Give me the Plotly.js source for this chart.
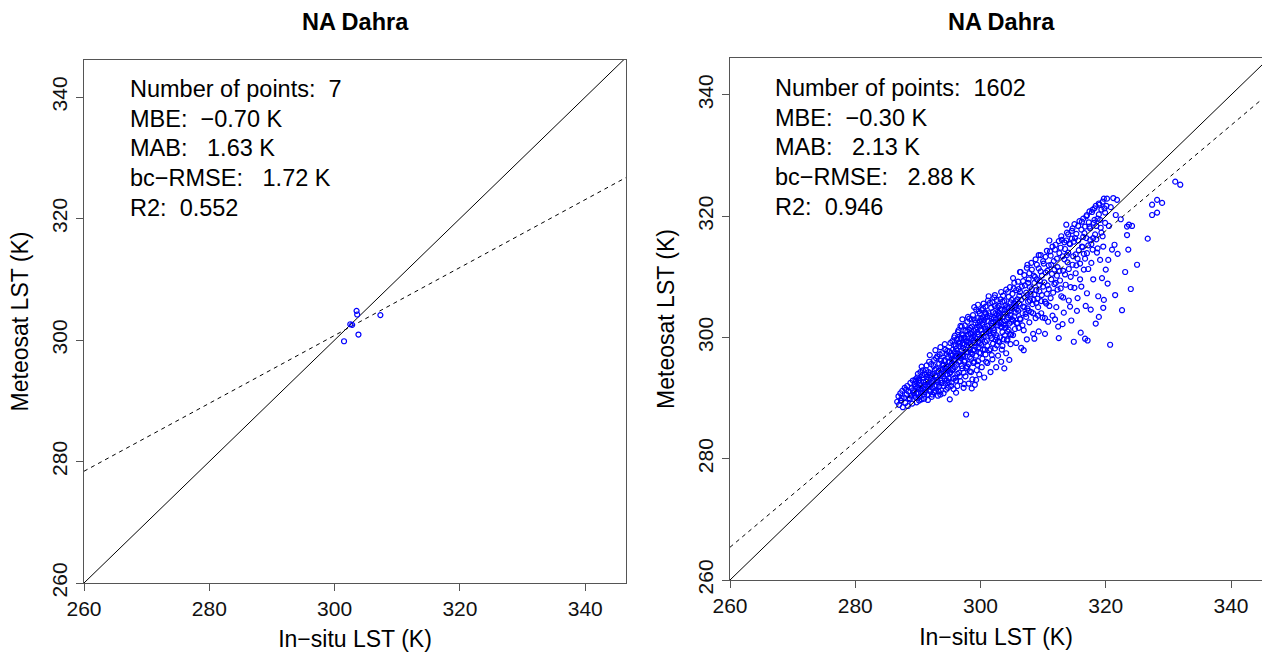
<!DOCTYPE html>
<html><head><meta charset="utf-8">
<script src="https://cdn.plot.ly/plotly-3.0.1.min.js"></script>
<style>html,body{margin:0;padding:0;background:#fff;}#chart{width:1262px;height:652px;}</style>
</head><body><div id="chart"></div>
<script>
const panelTitles = ['NA Dahra', 'NA Dahra'];
const xAxisTitle = 'In\u2212situ LST (K)';
const yAxisTitle = 'Meteosat LST (K)';
const tickValues = [260, 280, 300, 320, 340];
const tickLabels = ['260', '280', '300', '320', '340'];

// Left panel: 7 matchups
const insituLeft   = [303.5, 303.6, 302.5, 307.3, 303.8, 301.5, 302.8];
const meteosatLeft = [304.8, 304.2, 302.6, 304.1, 300.9, 299.8, 302.5];

const statsLeft  = ['Number of points:  7', 'MBE:  \u22120.70 K', 'MAB:   1.63 K', 'bc\u2212RMSE:   1.72 K', 'R2:  0.552'];
const statsRight = ['Number of points:  1602', 'MBE:  \u22120.30 K', 'MAB:   2.13 K', 'bc\u2212RMSE:   2.88 K', 'R2:  0.946'];

// regression fits (dashed): y = intercept + slope * x
const fitSlopes = [0.559, 0.87];
const fitIntercepts = [133.06, 39.2];

// Right panel: (in-situ, Meteosat) pairs read from the point cloud
const pairsRight = [
[286.7,289.4],[286.9,290.3],[287.0,288.9],[287.2,290.8],[287.3,289.6],[287.5,291.2],[287.6,288.5],[287.8,290.1],[287.9,291.7],[288.0,289.2],
[288.2,290.6],[288.3,292.0],[288.4,288.7],[288.5,291.1],[288.7,289.8],[288.8,292.5],[288.9,290.4],[289.0,291.6],[289.1,289.1],[289.2,292.9],
[289.3,290.8],[287.4,290.0],[288.1,291.4],[288.6,290.0],[289.2,291.3],
[289.4,291.2],[289.6,293.1],[289.7,290.1],[289.9,291.8],[290.0,294.0],[290.2,289.6],[290.3,292.5],[290.5,290.9],[290.6,295.2],[290.8,291.6],
[290.9,293.4],[291.0,289.9],[291.2,292.2],[291.3,294.6],[291.5,290.6],[291.6,293.0],[291.8,296.0],[291.9,291.4],[292.0,294.1],[292.2,290.2],
[292.3,292.8],[292.5,295.3],[292.6,291.0],[292.8,293.7],[292.9,296.6],[293.0,292.1],[293.2,290.4],[293.3,294.5],[293.5,297.2],[293.6,292.9],
[293.7,291.3],[293.9,295.4],[294.0,293.6],[294.1,290.8],[294.3,296.3],[294.4,292.4],[294.5,294.9],[294.7,297.8],[294.8,291.7],[294.9,293.3],
[295.0,295.9],[295.1,289.8],[289.8,290.7],[290.4,291.5],[290.7,293.8],[291.1,291.0],[291.4,293.5],[291.7,292.0],[292.1,293.3],[292.4,291.6],
[292.7,294.7],[293.1,293.0],[293.4,291.9],[293.8,294.0],[294.2,294.4],[294.6,292.9],[295.2,294.3],[289.5,292.3],[290.1,292.9],[291.9,297.1],
[292.8,297.9],[293.6,298.4],[294.3,298.9],
[289.5,290.4],[289.6,291.9],[289.7,292.8],[289.8,289.3],[289.9,293.4],[290.0,290.8],[290.1,291.7],[290.2,293.0],[290.3,290.2],[290.4,294.3],
[290.5,292.1],[290.6,289.8],[290.7,291.2],[290.8,294.6],[290.9,292.6],[291.0,290.6],[291.1,293.9],[291.2,291.4],[291.3,292.7],[291.4,295.4],
[291.5,291.9],[291.6,289.7],[291.7,294.3],[291.8,292.3],[291.9,293.8],[292.0,291.1],[292.1,295.6],[292.2,292.5],[292.3,290.6],[292.4,294.0],
[292.5,293.0],[292.6,296.3],[292.7,292.0],[292.8,291.2],[292.9,294.9],[293.0,293.5],[293.1,296.9],[293.2,292.6],[293.3,291.1],[293.4,295.7],
[293.5,293.8],[293.6,290.6],[293.7,296.2],[293.8,292.5],[293.9,297.4],[294.0,294.8],[294.1,292.0],[294.2,296.1],[294.3,293.2],[294.4,298.0],
[294.5,291.4],[294.6,295.2],[294.7,293.9],[294.8,296.8],[294.9,292.6],[295.0,297.7],[295.1,294.1],[295.2,299.1],[295.3,292.0],[295.4,296.5],
[295.5,294.6],[295.6,298.0],[295.7,293.2],[295.8,300.0],[295.9,295.1],[296.0,297.0],[296.1,292.9],[296.2,299.6],[296.3,294.0],[296.4,300.9],
[296.5,296.0],[296.6,298.6],[296.7,293.6],[296.8,297.2],[296.9,299.9],[297.0,295.3],[294.05,295.5],[294.55,297.3],[295.05,296.0],[295.55,297.1],
[296.05,298.6],[296.55,299.2],[293.75,294.7],[294.25,295.0],[294.75,294.6],[295.25,295.4],[295.75,296.4],[296.25,297.0],[296.75,296.1],[297.0,301.8],
[295.3,297.0],[295.4,292.6],[295.5,299.4],[295.6,294.8],[295.7,291.5],[295.8,296.2],[295.9,300.3],[296.0,293.4],[296.1,298.1],[296.2,295.5],
[296.3,292.0],[296.4,297.3],[296.5,301.2],[296.6,294.2],[296.7,299.0],[296.8,292.8],[296.9,296.6],[297.0,300.5],[297.1,294.9],[297.2,298.3],
[297.3,291.7],[297.4,296.0],[297.5,302.0],[297.6,293.6],[297.7,287.3],[297.8,299.5],[297.9,295.2],[298.0,297.6],[298.1,292.4],[298.2,301.3],
[298.3,294.4],[298.4,298.9],[298.5,296.5],[298.6,303.0],[298.7,293.1],[298.8,300.2],[298.9,295.8],[299.0,298.0],[299.1,292.2],[299.2,302.4],
[299.3,297.0],[299.4,294.6],[299.5,300.9],[299.6,296.1],[299.7,304.3],[299.8,293.9],[299.9,299.1],[300.0,297.4],
[295.4,295.7],[295.9,297.6],[296.3,299.8],[296.6,296.9],[297.0,297.8],[297.3,299.9],[297.6,298.1],[297.9,301.0],[298.2,299.2],[298.5,300.7],
[298.8,297.9],[299.1,300.0],[299.4,301.7],[299.7,298.4],[296.1,290.9],[297.4,292.3],[298.6,291.6],[299.3,293.0],[296.8,301.9],[298.0,303.4],
[299.0,305.0],[299.6,305.4],[295.7,298.8],[297.1,303.0],[298.3,296.8],[299.9,302.6],
[297.1,297.1],[297.2,300.4],[297.3,294.2],[297.4,298.8],[297.5,296.2],[297.6,301.1],[297.7,295.0],[297.8,297.6],[297.9,302.6],[298.0,299.2],
[298.1,295.6],[298.2,303.1],[298.3,298.0],[298.4,300.6],[298.5,294.3],[298.6,301.8],[298.7,297.3],[298.8,303.7],[298.9,299.6],[299.0,296.0],
[299.1,302.9],[299.2,298.5],[299.3,304.6],[299.4,299.8],[299.5,295.5],[299.6,302.1],[299.7,300.5],[299.8,297.5],[299.9,304.0],[300.0,301.2],
[300.1,298.8],[300.2,302.8],[300.3,296.5],[300.4,304.8],[300.5,300.1],[300.6,302.9],[300.7,298.0],[300.8,305.1],[300.9,300.9],[301.0,303.4],
[297.15,299.0],[297.45,300.0],[297.75,299.3],[298.05,300.5],[298.35,301.6],[298.65,299.9],[298.95,301.1],[299.25,301.3],[299.55,303.2],[299.85,301.8],
[300.15,300.0],[300.45,303.3],[300.75,304.1],[297.25,296.9],[297.85,298.7],[298.45,297.5],[299.05,299.1],[299.65,299.3],[300.25,299.6],[300.85,301.4],
[300.1,303.1],[300.2,295.1],[300.3,300.6],[300.4,298.0],[300.5,305.6],[300.6,293.4],[300.7,301.8],[300.8,297.2],[300.9,303.9],[301.0,299.5],
[301.1,295.8],[301.2,306.1],[301.3,301.0],[301.4,297.9],[301.5,305.7],[301.6,294.3],[301.7,302.4],[301.8,299.9],[301.9,296.4],[302.0,304.2],
[302.1,300.8],[302.2,306.6],[302.3,298.2],[302.4,302.9],[302.5,295.1],[302.6,300.0],[302.7,305.0],[302.8,297.0],[302.9,303.6],[303.0,299.3],
[303.2,301.8],[303.3,296.0],[303.4,304.5],[303.5,298.6],[303.6,306.9],[303.7,302.1],[303.8,294.9],[303.9,300.4],[304.0,305.3],[304.1,297.4],
[304.2,303.0],[304.3,299.7],[304.4,307.5],[304.5,301.3],[304.6,296.3],[304.7,304.4],[304.8,298.9],[304.9,302.6],[305.0,306.2],
[300.3,302.2],[300.7,299.3],[301.1,301.9],[301.6,300.3],[302.0,301.5],[302.4,299.6],[302.8,302.0],[303.1,303.3],[303.5,300.9],[303.9,302.7],
[304.3,304.1],[304.7,300.5],[300.9,296.0],[301.8,297.1],[302.6,298.7],[303.4,298.0],[304.2,299.5],[300.2,304.5],[301.3,304.0],[302.3,305.2],
[303.2,306.3],[304.0,301.6],[304.8,305.8],
[301.1,298.6],[301.2,302.7],[301.3,306.8],[301.4,300.7],[301.5,303.5],[301.6,298.1],[301.7,304.9],[301.8,301.9],[301.9,305.8],[302.0,299.0],
[302.1,303.2],[302.2,301.2],[302.3,307.0],[302.4,304.0],[302.5,300.4],[302.6,306.2],[302.7,302.5],[302.8,299.4],[302.9,305.2],[303.0,302.8],
[303.1,300.0],[303.2,304.7],[303.3,307.5],[303.4,301.7],[303.5,305.9],[303.6,303.4],[303.7,299.7],[303.8,306.0],[303.9,303.9],[304.0,302.1],
[304.1,307.9],[304.2,305.0],[304.3,301.0],[304.4,303.3],[304.5,306.7],[304.6,302.3],[304.7,308.3],[304.8,303.7],[304.9,300.5],[305.0,304.8],
[305.1,307.2],[305.2,302.8],[305.3,305.6],[305.4,309.0],[305.5,301.4],[305.6,304.1],[305.7,307.8],[305.8,302.3],[305.9,306.3],[306.0,304.4],
[301.45,301.3],[302.05,302.6],[302.65,303.8],[303.25,302.4],[303.85,304.6],[304.45,304.9],[305.05,303.0],[305.65,305.3],[301.75,303.1],[302.95,304.1],
[305.2,300.4],[305.3,308.1],[305.4,303.5],[305.6,306.0],[305.7,299.1],[305.8,304.7],[306.0,309.2],[306.1,301.6],[306.2,306.9],[306.4,303.0],
[306.5,298.3],[306.6,308.4],[306.8,305.1],[306.9,301.2],[307.0,310.3],[307.2,303.9],[307.3,307.4],[307.4,299.7],[307.6,305.9],[307.7,309.6],
[307.8,302.5],[308.0,307.1],[308.1,304.2],[308.2,311.2],[308.4,300.6],[308.5,306.2],[308.6,309.0],[308.8,303.2],[308.9,307.8],[309.0,312.0],
[309.2,305.0],[309.3,301.0],[309.4,308.7],[309.6,310.9],[309.7,304.0],[309.8,307.0],[310.0,312.6],
[305.5,305.0],[306.3,307.5],[307.1,306.6],[307.9,308.3],[308.7,310.0],[309.5,309.3],[305.9,302.4],[306.7,304.0],[307.5,304.8],[308.3,305.5],
[309.1,306.4],[309.9,303.3],[310.3,300.6],[306.9,297.9],[308.6,299.8],[305.2,309.8],[307.5,312.0],[309.3,313.6],[306.3,310.8],
[306.1,308.0],[306.3,303.1],[306.4,310.8],[306.5,306.2],[306.7,302.0],[306.8,309.3],[307.0,305.0],[307.1,308.6],[307.3,303.4],[307.4,311.5],
[307.5,307.0],[307.7,304.4],[307.8,310.6],[307.9,306.1],[308.1,312.3],[308.2,308.0],[308.4,304.0],[308.5,310.2],[308.6,307.1],[308.8,312.9],
[308.9,305.7],[309.0,309.6],[309.2,303.6],[309.3,311.4],[309.4,307.6],[309.6,313.6],[309.7,306.0],[309.8,310.2],[310.0,308.4],[310.1,312.2],
[310.3,305.9],[310.4,310.7],[310.6,314.3],[310.7,308.6],[310.9,311.9],[311.0,305.2],[311.2,313.5],[311.3,309.6],[311.5,315.0],[311.6,307.4],
[311.8,311.2],[311.9,314.5],[312.0,309.0],[306.2,305.6],[307.6,309.0],
[310.2,309.1],[310.4,313.3],[310.5,305.6],[310.7,311.0],[310.8,302.6],[310.9,308.0],[311.1,314.2],[311.2,306.5],[311.4,310.5],[311.5,303.6],
[311.7,312.6],[311.8,308.8],[312.0,315.3],[312.1,305.0],[312.3,311.6],[312.4,301.8],[312.6,313.9],[312.7,309.4],[312.9,306.8],[313.0,316.1],
[313.2,311.0],[313.3,304.1],[313.5,314.6],[313.6,308.7],[313.8,317.3],[313.9,312.4],[314.1,306.1],[314.2,315.5],[314.4,310.0],[314.5,302.8],
[314.7,318.0],[314.8,313.4],[315.0,308.2],[315.1,316.4],[315.3,311.9],[315.4,304.4],[315.6,318.4],[315.7,314.4],[315.9,309.6],[316.0,300.8],
[310.6,307.2],[311.3,312.0],[312.2,310.2],[312.8,314.8],[313.4,312.9],[314.0,314.0],[314.6,316.3],[315.2,313.7],[310.3,303.2],[311.9,303.0],
[313.1,302.2],[314.3,305.1],[315.5,306.5],[312.5,299.9],[314.9,299.3],[311.0,316.0],[313.7,318.6],
[312.2,313.0],[312.3,307.9],[312.5,315.9],[312.6,311.0],[312.8,308.1],[312.9,316.7],[313.1,313.4],[313.2,306.6],[313.4,315.7],[313.5,310.4],
[313.7,316.0],[313.8,313.6],[314.0,317.0],[314.1,311.3],[314.3,315.4],[314.4,308.3],[314.6,317.6],[314.7,312.0],[314.9,315.8],[315.0,318.7],
[315.2,310.6],[315.3,317.1],[315.5,313.0],[315.6,316.0],[315.8,319.2],[315.9,312.2],[316.1,317.8],[316.2,315.0],[316.4,319.6],[316.5,313.8],
[316.7,318.3],[316.9,316.4],[317.0,320.2],[317.2,315.2],[317.4,320.8],[317.5,318.0],[317.7,312.3],[317.9,321.1],[318.0,316.4],[318.2,319.4],
[318.4,321.7],[318.5,318.4],[318.7,314.7],[318.9,322.1],[319.1,319.4],[319.3,321.1],[319.5,316.7],[319.7,322.9],[319.9,318.9],[320.1,321.7],
[316.2,319.1],[316.3,314.9],[316.5,311.2],[316.6,317.2],[316.8,305.2],[316.9,320.0],[317.0,313.9],[317.1,299.5],[317.2,311.3],[317.4,318.3],
[317.5,316.1],[317.6,304.6],[317.8,320.7],[317.9,314.5],[318.0,309.6],[318.2,321.3],[318.3,317.0],[318.4,302.3],[318.6,314.0],[318.7,319.6],
[318.8,306.8],[319.0,321.9],[319.1,312.8],[319.2,318.1],[319.4,309.8],[319.5,322.4],[319.6,315.0],[319.7,306.2],[319.9,320.6],[320.0,311.2],
[320.2,322.9],[320.4,312.8],[320.5,318.4],[320.7,298.8],[320.8,321.5],[321.0,314.5],[321.2,323.0],[321.4,315.3],[321.6,320.2],[321.8,322.7],
[321.9,313.8],[316.4,316.6],[317.3,319.0],[318.1,318.9],[318.9,320.3],[319.8,321.3],[316.7,313.0],[317.7,315.4],[318.5,316.2],[319.3,317.3],
[316.1,308.4],[317.0,307.3],[318.9,303.4],[319.6,304.9],[320.3,308.9],[316.7,299.8],
[322.4,319.5],[323.1,310.8],[323.4,318.3],[323.4,316.9],[323.6,314.5],[323.7,318.6],[324.2,318.4],[325.0,312.0],[326.7,316.3],[327.4,321.9],
[327.4,320.2],[328.2,322.7],[328.2,320.6],[329.0,322.2],[331.1,325.7],[331.9,325.2],[322.6,304.5],[324.0,308.0],[321.5,307.0]
];

const W = 1262, H = 652;
const px = v => v / W;
const py = v => 1 - v / H;

const xRangeL = [260, 346.5], yRangeL = [260, 346.1];
const xRangeR = [260, 344.95], yRangeR = [260, 346.1];

const lineColor = '#000';
const axisColor = '#555';
const blue = '#0000ff';
const FONT = '"Liberation Sans", Arial, Helvetica, sans-serif';

function oneToOne(xa, ya, range) {
  return {x: [range[0], range[1]], y: [range[0], range[1]], xaxis: xa, yaxis: ya, mode: 'lines',
    line: {color: lineColor, width: 1}, hoverinfo: 'skip', showlegend: false};
}
function fitLine(xa, ya, range, i) {
  const xs = [range[0], range[1]];
  return {x: xs, y: xs.map(v => fitIntercepts[i] + fitSlopes[i] * v), xaxis: xa, yaxis: ya, mode: 'lines',
    line: {color: lineColor, width: 1, dash: '4px,4px'}, hoverinfo: 'skip', showlegend: false};
}
const markerStyle = {symbol: 'circle-open', size: 5, color: blue, line: {width: 1.2, color: blue}};

const traces = [
  oneToOne('x', 'y', xRangeL),
  fitLine('x', 'y', xRangeL, 0),
  {x: insituLeft, y: meteosatLeft, xaxis: 'x', yaxis: 'y', mode: 'markers', type: 'scatter', marker: markerStyle, showlegend: false},
  {x: pairsRight.map(p => p[0]), y: pairsRight.map(p => p[1]), xaxis: 'x2', yaxis: 'y2', mode: 'markers', type: 'scatter', marker: markerStyle, showlegend: false},
  oneToOne('x2', 'y2', xRangeR),
  fitLine('x2', 'y2', xRangeR, 1)
];

function axisBase(extra) {
  return Object.assign({
    showline: true, linecolor: axisColor, linewidth: 1, showgrid: false, zeroline: false,
    ticks: 'outside', ticklen: 7, tickwidth: 1, tickcolor: axisColor,
    tickvals: tickValues, ticktext: tickLabels,
    tickfont: {family: FONT, size: 21, color: '#111'}, automargin: false, fixedrange: true
  }, extra);
}

const annotations = [];
const titleCenters = [355, 1001];
panelTitles.forEach((t, i) => annotations.push({
  text: '<b>' + t + '</b>', xref: 'paper', yref: 'paper', x: px(titleCenters[i]), y: py(22),
  xanchor: 'center', yanchor: 'middle', showarrow: false, font: {family: FONT, size: 23.5, color: '#000'}
}));
const statsX = [128, 773];
const statsY0 = [89, 88];
[statsLeft, statsRight].forEach((lines, i) => lines.forEach((s, k) => annotations.push({
  text: s.replace(/ /g, '\u00a0'), xref: 'paper', yref: 'paper', x: px(statsX[i]), y: py(statsY0[i] + k * 29.7),
  xanchor: 'left', yanchor: 'middle', showarrow: false, font: {family: FONT, size: 23.5, color: '#000'}
})));

const layout = {
  width: W, height: H, margin: {l: 0, r: 0, t: 0, b: 0},
  paper_bgcolor: '#fff', plot_bgcolor: '#fff', showlegend: false,
  font: {family: FONT, color: '#000'},
  xaxis: axisBase({domain: [px(84), px(626)], range: xRangeL, mirror: true, anchor: 'y',
    title: {text: xAxisTitle, font: {family: FONT, size: 23}, standoff: 12}}),
  yaxis: axisBase({domain: [py(583), py(60)], range: yRangeL, mirror: true, anchor: 'x', tickangle: -90, ticklabelstandoff: 1,
    title: {text: yAxisTitle, font: {family: FONT, size: 23}, standoff: 12}}),
  xaxis2: axisBase({domain: [px(730), 1], range: xRangeR, mirror: true, anchor: 'y2',
    title: {text: xAxisTitle, font: {family: FONT, size: 23}, standoff: 12}}),
  yaxis2: axisBase({domain: [py(580), py(58)], range: yRangeR, mirror: false, anchor: 'x2', tickangle: -90, ticklabelstandoff: 1,
    title: {text: yAxisTitle, font: {family: FONT, size: 23}, standoff: 12}}),
  annotations: annotations
};

Plotly.newPlot('chart', traces, layout, {displayModeBar: false, staticPlot: true});
</script></body></html>
